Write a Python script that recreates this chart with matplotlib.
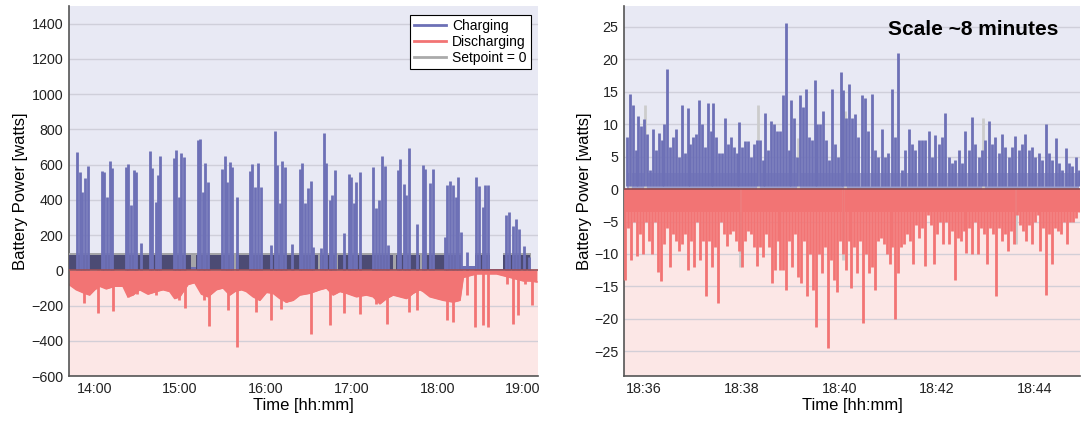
import numpy as np
import matplotlib.pyplot as plt
from matplotlib.lines import Line2D

plt.rcParams['font.family'] = ['Liberation Sans', 'DejaVu Sans']

# ---------------- left panel: whole run, minutes after 14:00 ----------------
charge_t = [-12.0, -10.2, -8.3, -6.4, -4.6, 5.5, 6.9, 9.2, 10.9, 12.7, 22.3, 23.7, 25.8,
            27.7, 29.5, 32.8, 38.9, 40.5, 43.1, 44.5, 45.9, 55.7, 57.1, 59.2, 61.0, 62.9,
            72.7, 74.3, 76.2, 77.8, 79.7, 89.7, 91.4, 93.2, 94.9, 96.5, 100.2, 109.1,
            110.7, 112.8, 114.9, 116.8, 124.0, 126.4, 128.0, 129.9, 131.7, 133.8, 138.7,
            143.9, 145.7, 147.8, 149.5, 151.6, 153.2, 159.0, 160.9, 162.5, 164.9, 166.7,
            168.6, 174.9, 178.2, 180.0, 181.7, 183.5, 185.9, 195.2, 197.1, 199.4, 201.3,
            203.4, 205.5, 212.5, 214.3, 216.7, 218.5, 220.4, 225.8, 229.7, 231.4, 234.9,
            237.2, 245.4, 247.0, 248.9, 251.2, 252.8, 254.7, 256.8, 260.5, 266.8, 269.4,
            271.7, 273.6, 275.7, 288.1, 290.2, 292.7, 295.1, 297.2, 300.9, 304.4]
charge_w = [673, 559, 446, 521, 592, 565, 559, 417, 622, 578, 588, 601, 370,
            569, 559, 155, 679, 578, 389, 540, 650, 635, 683, 417, 667, 645,
            740, 743, 446, 607, 502, 573, 648, 502, 616, 588, 417, 565,
            601, 474, 611, 474, 146, 791, 597, 379, 620, 588, 152,
            573, 607, 379, 465, 508, 133, 129, 777, 611, 398, 427,
            569, 212, 544, 527, 379, 502, 559, 584, 351, 398, 648,
            592, 142, 569, 630, 489, 427, 692, 262, 597, 573, 493,
            575, 190, 483, 506, 483, 417, 527, 218, 104, 531, 478,
            360, 483, 483, 313, 332, 250, 290, 237, 138, 76]

discharge_t = [-7.4, 2.7, 13.2, 23.7, 30.2, 43.5, 59.4, 63.8, 76.9, 80.2, 93.7, 100.2,
               113.5, 124.0, 131.0, 134.5, 139.2, 152.0, 165.3, 174.9, 185.9, 197.5,
               205.2, 220.2, 226.2, 246.5, 251.2, 260.5, 266.4, 271.7, 275.7, 289.0,
               292.7, 296.7, 301.6, 306.0]
discharge_w = [-186, -243, -231, -152, -133, -142, -171, -212, -171, -317, -224, -436,
               -237, -284, -218, -180, -161, -360, -313, -243, -250, -190,
               -307, -237, -224, -281, -294, -142, -322, -313, -322, -76,
               -307, -256, -76, -199]

# bulk of the discharging trace (dense part under the zero line)
floor_t = [-17.6, -12.5, -6.7, -3.2, 0.4, 3.9, 8.5, 14.4, 20.2, 23.7, 27.2, 31.9, 37.7,
           43.5, 48.2, 52.9, 56.4, 59.9, 65.7, 70.4, 75.1, 79.7, 85.5, 90.2, 94.9, 98.4,
           103.1, 106.5, 111.2, 115.9, 120.5, 125.2, 129.9, 134.5, 139.2, 143.9, 150.9,
           157.9, 162.5, 167.2, 171.9, 176.5, 183.5, 190.5, 195.2, 199.9, 204.5, 209.2,
           213.9, 218.5, 223.2, 227.9, 230.2, 234.9, 239.5, 244.2, 251.2, 255.9, 258.2,
           267.5, 281.5, 290.9, 300.2, 304.9, 309.7]
floor_w = [-80, -110, -130, -140, -110, -90, -105, -90, -90, -150, -140, -110, -135,
           -120, -110, -120, -160, -150, -80, -70, -135, -150, -110, -100, -140, -120,
           -110, -120, -150, -170, -125, -130, -160, -180, -170, -140, -130,
           -110, -100, -140, -120, -130, -150, -140, -150, -190, -160, -140,
           -150, -160, -130, -110, -120, -150, -160, -170, -180, -170, -40,
           -20, -20, -40, -60, -60, -66]

# dense low-level charging (dark band) and setpoint band
band_start = [-17.6, 71.5, 99.1, 157.9, 170.6, 211.0, 229.0, 266.4, 286.2]
band_end = [68.0, 97.7, 156.7, 169.5, 209.0, 228.0, 257.0, 276.8, 304.9]
band_w = 100
gray_start = [-17.6, 266.4, 286.2]
gray_end = [257.0, 276.8, 305.5]
low_start = [68.0, 257.0, 276.8]
low_end = [71.5, 266.4, 286.2]
low_w = [20, 22, 10]

hour_ticks = [0, 60, 120, 180, 240, 300]
hour_labels = ["14:00", "15:00", "16:00", "17:00", "18:00", "19:00"]

# ---------------- right panel: ~8 minutes, seconds after 18:36 ----------------
zoom_charge_a = [8, 14.7, 13, 6, 11.2, 9.7, 10.8, 8.5, 3, 9.3, 6, 8.7, 7.5, 10, 18.5, 6.5,
                 8, 9.2, 5, 13, 5.5, 12.5, 7, 8, 8.5, 13.7, 10, 6.5, 13.2, 9, 13.2, 8, 5.5,
                 5.5, 10.9, 7, 8, 6.5, 5.5, 10.3, 6.5, 7.4, 7.4, 5, 7, 7.5, 7.5, 4.5, 11.7,
                 6, 10.5, 10, 9, 9, 14.5, 25.5, 6, 13.7, 11, 5, 14.5, 12.7, 15.4, 8, 7.5,
                 16.8, 10, 10, 12, 7.5, 4.5, 15.4, 7, 5, 18, 15.3, 11, 16.2]
zoom_charge_b = [11, 11.5, 8, 14.5, 14, 9, 14.7, 6, 5, 9.3, 5, 5.5, 15.4, 8, 21, 3, 6, 9.2,
                 7, 6, 7.5, 7.5, 7.5, 8.9, 5, 8.3, 7, 8, 11.7, 5, 4, 4.5, 6, 4, 8.9, 6,
                 11.1, 7, 5, 6, 7.5, 10.5, 7, 8, 5.5, 8.5, 6.5, 5, 6.5, 8.2, 6, 7, 8.5, 6,
                 6.5, 5, 5.5, 4.5, 10, 5.5, 4.5, 7.9, 4, 3, 6.3, 4, 3.5, 5, 3]
zoom_dis_a = [-14, -6, -11, -5, -10.3, -7, -10, -5, -8, -10, -5, -12.7, -14.2, -8.5, -6,
              -12, -7, -8, -9.5, -8.5, -7, -12.5, -8, -12, -5, -11, -8, -16.4, -8, -12,
              -9, -17.5, -5, -7, -8.8, -7, -6.5, -8, -9.5, -12, -8, -6.5, -7, -9, -11.8,
              -9, -10.5, -7, -9, -14.5, -12.5, -8, -12.5, -12.5, -15.5, -8, -12, -7,
              -13.5, -14.5, -8, -16.5, -10, -15.5, -21.3, -10, -13, -9, -24.5, -11, -14,
              -15.8, -8, -10, -12.5, -8]
zoom_dis_b = [-15.2, -9, -13, -8, -20.6, -10, -13, -12, -15.6, -8, -7.5, -8.5, -10, -11.5,
              -9, -20, -13, -9, -8.5, -7, -8, -11.5, -5.5, -7.5, -6, -11.8, -4, -5.5,
              -11.5, -7, -5, -8.5, -5, -8.5, -6.5, -14, -7.5, -8, -6.5, -9.8, -6, -10,
              -5, -10, -6, -7, -11.5, -6, -7, -16.5, -6, -8, -7, -9.5, -6.5, -8.5, -4,
              -5.5, -6.5, -8, -5.5, -8.5, -5, -4, -9.5, -6, -16.3, -7, -11.5, -6, -6.5,
              -7, -5, -8.5, -5, -5, -4.5, -3.5]
charge_a_span = (-20.4, 252.1)
charge_b_span = (255.2, 533.8)
dis_a_span = (-22.4, 252.1)
dis_b_span = (254.4, 533.8)
setpoint_t = [-16.3, 2.1, 118.4, 140.2, 189.4, 244.4, 246.8, 415.9, 456.4]
setpoint_w = [11, 13, -12, 13, 7.8, -11, 12, 11, -8.5]

minute_ticks = [0, 120, 240, 360, 480]
minute_labels = ["18:36", "18:38", "18:40", "18:42", "18:44"]

BLUE = "#6d70b6"
RED = "#f27474"
TOP_BG = "#e8e9f4"
BOT_BG = "#fce7e6"


def style_axis(ax, ylo, yhi, yticks):
    ax.set_ylim(ylo, yhi)
    ax.axhspan(0, yhi, color=TOP_BG, zorder=0, lw=0)
    ax.axhspan(ylo, 0, color=BOT_BG, zorder=0, lw=0)
    ax.set_facecolor("white")
    ax.set_yticks(yticks)
    ax.yaxis.grid(True, color="#c9c9d4", lw=1, alpha=0.8, zorder=0.5)
    ax.set_axisbelow(True)
    for s in ("top", "right"):
        ax.spines[s].set_visible(False)
    for s in ("left", "bottom"):
        ax.spines[s].set_color("#555555")
        ax.spines[s].set_linewidth(1.2)
    ax.tick_params(length=0, labelsize=10.3, colors="#222222", pad=4)
    ax.set_ylabel("Battery Power [watts]", fontsize=12)
    ax.set_xlabel("Time [hh:mm]", fontsize=12, labelpad=2)


fig = plt.figure(figsize=(10.81, 4.23), dpi=100)
ax1 = fig.add_axes([0.0638, 0.111, 0.4339, 0.875])
ax2 = fig.add_axes([0.5772, 0.111, 0.4218, 0.875])

# ---- left
style_axis(ax1, -600, 1500, np.arange(-600, 1401, 200))
ax1.fill_between(floor_t, floor_w, 0, color=RED, lw=0, zorder=2)
ax1.plot(floor_t, floor_w, color=RED, lw=1.2, zorder=2)
ax1.vlines(discharge_t, 0, discharge_w, color=RED, lw=2.0, zorder=2)
for s, e in zip(gray_start, gray_end):
    ax1.fill_between([s, e], 0, band_w, color="#a4a4a8", lw=0, zorder=3)
for s, e in zip(band_start, band_end):
    ax1.fill_between([s, e], 0, band_w * 0.88, color="#4c4b74", lw=0, zorder=3)
for s, e, w in zip(low_start, low_end, low_w):
    ax1.fill_between([s, e], 0, w, color=BLUE, lw=0, zorder=3)
ax1.vlines(charge_t, 0, charge_w, color=BLUE, lw=2.0, zorder=4)
ax1.axhline(0, color="#9c4f55", lw=1.2, zorder=5)
ax1.set_xlim(-17.6, 310.5)
ax1.set_xticks(hour_ticks)
ax1.set_xticklabels(hour_labels)
ax1.yaxis.set_label_coords(-0.087, 0.5)

handles = [Line2D([], [], color=BLUE, lw=2),
           Line2D([], [], color=RED, lw=2),
           Line2D([], [], color="#aaaaaa", lw=2)]
leg = ax1.legend(handles, ["Charging", "Discharging", "Setpoint = 0"],
                 loc="upper right", bbox_to_anchor=(0.984, 0.976), borderaxespad=0,
                 fontsize=10, frameon=True, fancybox=False, framealpha=1,
                 edgecolor="black", borderpad=0.3, labelspacing=0.15,
                 handlelength=2.3, handletextpad=0.4)
leg.get_frame().set_linewidth(0.8)

# ---- right
style_axis(ax2, -28.8, 28.2, np.arange(-25, 26, 5))
ax2.fill_between([dis_a_span[0], dis_b_span[1]], 0, -3.5, color=RED, lw=0, zorder=2)
ax2.fill_between([charge_a_span[0], charge_b_span[1]], 0, 2.5, color="#9c9ecb", lw=0, zorder=2)
ax2.vlines(setpoint_t, 0, setpoint_w, color="#cccccc", lw=2.0, zorder=2)
for vals, span in ((zoom_dis_a, dis_a_span), (zoom_dis_b, dis_b_span)):
    t = np.linspace(span[0], span[1], len(vals))
    ax2.vlines(t, 0, vals, color=RED, lw=2.0, zorder=3)
for vals, span in ((zoom_charge_a, charge_a_span), (zoom_charge_b, charge_b_span)):
    t = np.linspace(span[0], span[1], len(vals))
    ax2.vlines(t, 0.4, vals, color=BLUE, lw=2.0, zorder=3)
ax2.axhline(0, color="#8a4a50", lw=1.2, zorder=5)
ax2.set_xlim(-24, 535)
ax2.set_xticks(minute_ticks)
ax2.set_xticklabels(minute_labels)
ax2.yaxis.set_label_coords(-0.07, 0.5)
ax2.text(0.767, 0.935, "Scale ~8 minutes", transform=ax2.transAxes, ha="center",
         va="center", fontsize=15, fontweight="bold", zorder=6)

fig.savefig("out.png", dpi=100)
